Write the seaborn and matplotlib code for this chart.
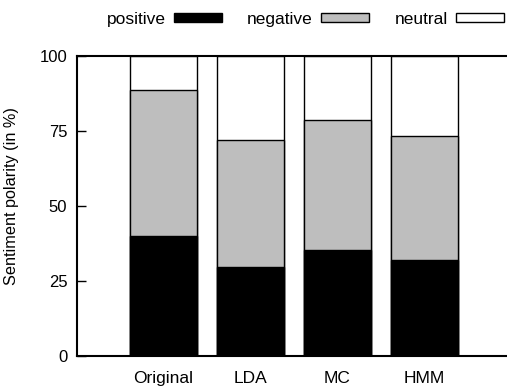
import pandas as pd
import matplotlib
matplotlib.use("Agg")
import matplotlib.pyplot as plt
import seaborn as sns

# ==========================================
# Data
# ==========================================

methods = ["Original", "LDA", "MC", "HMM"]
positive = [40.0, 29.8, 35.2, 31.9]
negative = [48.7, 42.2, 43.4, 41.6]
neutral = [11.3, 28.0, 21.4, 26.5]

df = pd.DataFrame({
    "method": methods,
    "positive": positive,
    "negative": negative,
    "neutral": neutral,
})
df["pos_neg"] = df["positive"] + df["negative"]
df["total"] = df["pos_neg"] + df["neutral"]

# ==========================================
# Style
# ==========================================

sns.set_theme(style="ticks")
plt.rcParams["font.family"] = ["Liberation Sans", "DejaVu Sans"]
plt.rcParams["font.size"] = 12.5
plt.rcParams["text.color"] = "black"
plt.rcParams["axes.labelcolor"] = "black"
plt.rcParams["xtick.color"] = "black"
plt.rcParams["ytick.color"] = "black"

fig = plt.figure(figsize=(5.07, 3.89), dpi=100)
ax = fig.add_axes([0.152, 0.0848, 0.848, 0.7712])

bar_kw = dict(width=0.76, edgecolor="black", linewidth=1.0, ax=ax)

# stacked bars drawn back to front
sns.barplot(data=df, x="method", y="total", color="white", **bar_kw)
sns.barplot(data=df, x="method", y="pos_neg", color="#bebebe", **bar_kw)
sns.barplot(data=df, x="method", y="positive", color="black", **bar_kw)

# seaborn desaturates the colors a bit, put them back
fills = ["white", "#bebebe", "black"]
for cont, fc in zip(ax.containers, fills):
    for p in cont:
        p.set_facecolor(fc)
        p.set_edgecolor("black")

ax.set_xlim(-0.994, 3.948)
ax.set_ylim(0, 100)
ax.set_yticks([0, 25, 50, 75, 100])
ax.set_xlabel("")
ax.set_ylabel("Sentiment polarity (in %)", fontsize=11.7)
ax.yaxis.set_label_coords(-0.135, 0.533)

ax.tick_params(axis="y", direction="in", length=6.5, width=1.0, pad=7,
               labelsize=12, colors="black")
ax.tick_params(axis="x", length=0, pad=11, labelsize=12.5, colors="black")

for side in ["left", "top", "bottom"]:
    ax.spines[side].set_linewidth(1.5)
    ax.spines[side].set_color("black")
ax.spines["right"].set_visible(False)

# legend across the top, text before swatch
handles = [ax.containers[2], ax.containers[1], ax.containers[0]]
labels = ["positive", "negative", "neutral"]
fig.legend(handles, labels, loc="upper right", bbox_to_anchor=(1.025, 1.01),
           ncol=3, frameon=False, markerfirst=False, fontsize=12.5,
           handlelength=2.75, handleheight=0.35, handletextpad=0.5,
           columnspacing=1.45)

plt.savefig("out.png", dpi=100)
plt.close()
